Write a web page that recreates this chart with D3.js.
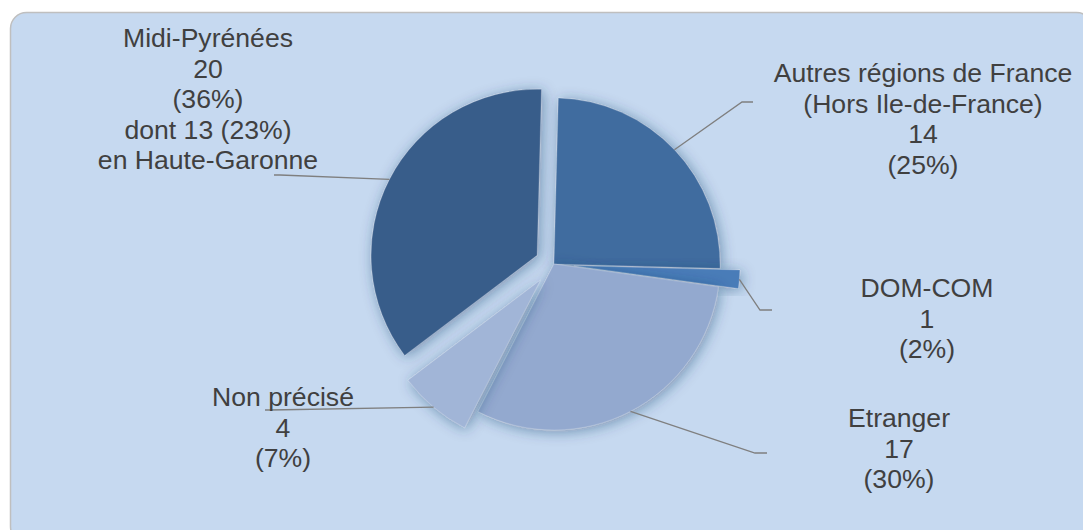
<!DOCTYPE html>
<html>
<head>
<meta charset="utf-8">
<script src="https://cdn.jsdelivr.net/npm/d3@7"></script>
<style>
    html, body { margin: 0; padding: 0; background: #ffffff; }
    svg text { font-family: 'Liberation Sans', Arial, sans-serif; }
</style>
</head>
<body>
<svg id="chart" width="1083" height="530"></svg>
<script>
// data
var categories = [ 'Autres régions de France', 'DOM-COM', 'Etranger', 'Non précisé', 'Midi-Pyrénées' ],
    values     = [ 14, 1, 17, 4, 20 ],
    percents   = [ '25%', '2%', '30%', '7%', '36%' ],
    // text lines of each data label
    labelLines = [
        [ 'Autres régions de France', '(Hors Ile-de-France)', '14', '(25%)' ],
        [ 'DOM-COM', '1', '(2%)' ],
        [ 'Etranger', '17', '(30%)' ],
        [ 'Non précisé', '4', '(7%)' ],
        [ 'Midi-Pyrénées', '20', '(36%)', 'dont 13 (23%)', 'en Haute-Garonne' ]
    ];

// styling / layout
var colors  = [ '#416c9f', '#4a7cb8', '#93a9cf', '#a1b5d7', '#395d8a' ],
    explode = [ 0, 20, 0, 21, 19 ],
    // label centre x, first baseline y, leader elbow and end
    labelPos = [
        { x : 923, y : 82,  elbow : [ 742, 102 ], end : [ 753, 102 ] },
        { x : 927, y : 297, elbow : [ 760, 310 ], end : [ 772, 310 ] },
        { x : 899, y : 427, elbow : [ 755, 453 ], end : [ 767, 453 ] },
        { x : 283, y : 406, elbow : [ 270, 410 ], end : [ 265, 410 ] },
        { x : 208, y : 47,  elbow : [ 280, 175 ], end : [ 274, 175 ] }
    ],
    lineHeight = 30.5;

var svg    = d3.select( '#chart' ),
    cx     = 554,
    cy     = 264,
    radius = 166,
    rotate = 1.5 * Math.PI / 180;

// chart area
svg.append( 'rect' )
    .attr( 'x', 10.5 )
    .attr( 'y', 12.5 )
    .attr( 'width', 1082 )
    .attr( 'height', 530 )
    .attr( 'rx', 16 )
    .attr( 'fill', '#c6d9f0' )
    .attr( 'stroke', '#bfbfbf' )
    .attr( 'stroke-width', 1.5 );

var defs = svg.append( 'defs' );
var filter = defs.append( 'filter' )
    .attr( 'id', 'shadow' )
    .attr( 'x', '-30%' ).attr( 'y', '-30%' )
    .attr( 'width', '160%' ).attr( 'height', '160%' );
filter.append( 'feDropShadow' )
    .attr( 'dx', 2 )
    .attr( 'dy', 2 )
    .attr( 'stdDeviation', 7 )
    .attr( 'flood-color', '#1f3d66' )
    .attr( 'flood-opacity', 0.45 );

var pie = d3.pie()
        .sort( null )
        .startAngle( rotate )
        .endAngle( rotate + 2 * Math.PI ),
    arcs = pie( values ),
    arc  = d3.arc().innerRadius( 0 ).outerRadius( radius );

function offsetOf( d, i ) {
    var mid = ( d.startAngle + d.endAngle ) / 2;
    return [ explode[ i ] * Math.sin( mid ), -explode[ i ] * Math.cos( mid ) ];
}

var g = svg.append( 'g' )
    .attr( 'transform', 'translate(' + cx + ',' + cy + ')' );

g.selectAll( '.slice' )
    .data( arcs )
    .enter().append( 'path' )
    .attr( 'class', 'slice' )
    .attr( 'transform', function( d, i ) {
        var o = offsetOf( d, i );
        return 'translate(' + o[ 0 ] + ',' + o[ 1 ] + ')';
    } )
    .attr( 'd', arc )
    .attr( 'fill', function( d, i ) { return colors[ i ]; } )
    .attr( 'stroke', 'rgba(255,255,255,0.3)' )
    .attr( 'stroke-width', 0.6 )
    .attr( 'filter', 'url(#shadow)' );

// leader lines
svg.selectAll( '.leader' )
    .data( arcs )
    .enter().append( 'polyline' )
    .attr( 'class', 'leader' )
    .attr( 'points', function( d, i ) {
        var o   = offsetOf( d, i ),
            mid = ( d.startAngle + d.endAngle ) / 2,
            sx  = cx + o[ 0 ] + radius * Math.sin( mid ),
            sy  = cy + o[ 1 ] - radius * Math.cos( mid ),
            p   = labelPos[ i ];
        return [ [ sx, sy ], p.elbow, p.end ].map( function( q ) { return q.join( ',' ); } ).join( ' ' );
    } )
    .attr( 'fill', 'none' )
    .attr( 'stroke', '#7f7f7f' )
    .attr( 'stroke-width', 1.3 );

// labels
var labels = svg.selectAll( '.label' )
    .data( arcs )
    .enter().append( 'text' )
    .attr( 'class', 'label' )
    .attr( 'text-anchor', 'middle' )
    .attr( 'font-size', 26.6 )
    .attr( 'fill', '#404040' );

labels.each( function( d, i ) {
    var t = d3.select( this ),
        p = labelPos[ i ];
    labelLines[ i ].forEach( function( line, k ) {
        t.append( 'tspan' )
            .attr( 'x', p.x )
            .attr( 'y', p.y + k * lineHeight )
            .text( line );
    } );
} );
</script>
</body>
</html>
